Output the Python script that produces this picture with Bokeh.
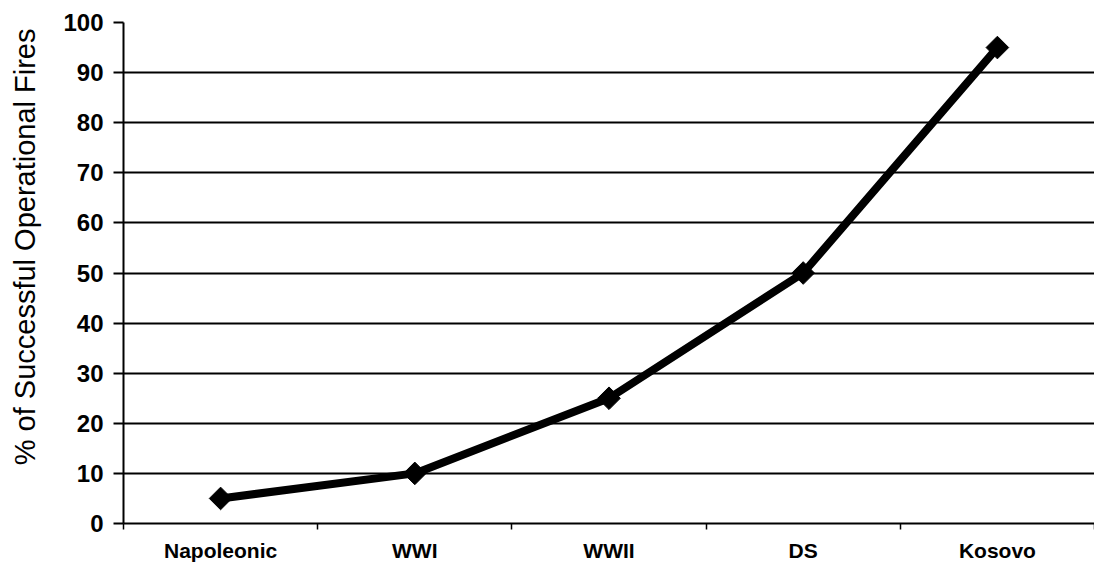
import math
from bokeh.plotting import figure
from bokeh.models import Range1d, FixedTicker, ColumnDataSource, Title
from bokeh.embed import file_html
from bokeh.resources import INLINE

categories = ["Napoleonic", "WWI", "WWII", "DS", "Kosovo"]
values = [5, 10, 25, 50, 95]
y_ticks = [0, 10, 20, 30, 40, 50, 60, 70, 80, 90, 100]
y_label = "% of Successful Operational Fires"

centers = [i + 0.5 for i in range(len(categories))]
bounds = list(range(len(categories) + 1))

p = figure(width=1094, height=570, output_backend="svg", toolbar_location=None,
           x_range=Range1d(0, len(categories)), y_range=Range1d(0, 100),
           min_border_left=123, min_border_right=0, min_border_top=22, min_border_bottom=47)
p.outline_line_color = None
p.background_fill_color = "white"
p.border_fill_color = "white"

# x axis
p.xaxis.ticker = FixedTicker(ticks=centers, minor_ticks=bounds)
p.xaxis.major_label_overrides = {c: n for c, n in zip(centers, categories)}
p.xaxis.major_tick_line_color = None
p.xaxis.minor_tick_line_color = "black"
p.xaxis.minor_tick_line_width = 1.5
p.xaxis.minor_tick_out = 6
p.xaxis.minor_tick_in = 0
p.xaxis.axis_line_color = "black"
p.xaxis.axis_line_width = 2
p.xaxis.major_label_text_font = "Liberation Sans"
p.xaxis.major_label_text_font_style = "bold"
p.xaxis.major_label_text_font_size = "21px"
p.xaxis.major_label_text_color = "black"
p.xaxis.major_label_standoff = 9

# y axis
p.yaxis.ticker = FixedTicker(ticks=y_ticks)
p.yaxis.minor_tick_line_color = None
p.yaxis.major_tick_out = 10
p.yaxis.major_tick_in = 0
p.yaxis.major_tick_line_width = 2
p.yaxis.major_tick_line_color = "black"
p.yaxis.axis_line_width = 2
p.yaxis.axis_line_color = "black"
p.yaxis.major_label_text_font = "Liberation Sans"
p.yaxis.major_label_text_font_style = "bold"
p.yaxis.major_label_text_font_size = "24px"
p.yaxis.major_label_text_color = "black"
p.yaxis.major_label_standoff = 10
# invisible spacer label to push the title outward
p.yaxis.axis_label = " "
p.yaxis.axis_label_text_font_size = "10px"
p.yaxis.axis_label_standoff = 0

ytitle = Title(text=y_label, align="right", offset=6, standoff=12,
               text_font="Liberation Sans", text_font_style="normal",
               text_font_size="29px", text_color="black")
p.add_layout(ytitle, "left")

p.xgrid.grid_line_color = None
p.ygrid.ticker = FixedTicker(ticks=y_ticks)
p.ygrid.grid_line_color = "black"
p.ygrid.grid_line_width = 2

src = ColumnDataSource(dict(x=centers, y=values))
p.line("x", "y", source=src, line_color="black", line_width=8)
p.scatter("x", "y", source=src, marker="square", size=16, angle=math.pi / 4,
          fill_color="black", line_color="black")

open("out.html", "w").write(file_html(p, INLINE))
